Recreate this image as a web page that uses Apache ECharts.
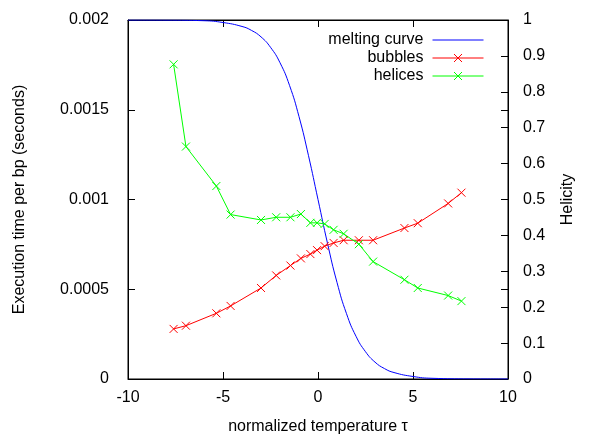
<!DOCTYPE html>
<html>
<head>
<meta charset="utf-8">
<script src="https://cdn.jsdelivr.net/npm/echarts@6/dist/echarts.min.js"></script>
<style>
  html, body { margin: 0; padding: 0; background: #fff; }
  #chart { width: 600px; height: 440px; }
</style>
</head>
<body>
<div id="chart"></div>
<script>
// normalized temperature of the simulation runs
var tau = [-7.6, -6.95, -5.35, -4.6, -3.0, -2.2, -1.45, -0.9, -0.4, -0.05, 0.35, 0.82, 1.35, 2.15, 2.9, 4.55, 5.25, 6.85, 7.55];
// execution time per bp (seconds)
var bubbles = [0.000279, 0.000297, 0.000366, 0.000407, 0.000507, 0.000577, 0.000632, 0.000672, 0.000696, 0.000718, 0.00074, 0.000758, 0.000773, 0.000773, 0.000773, 0.000841, 0.000868, 0.000978, 0.001038];
var helices = [0.001753, 0.001295, 0.001075, 0.000916, 0.000886, 0.000901, 0.000901, 0.000919, 0.00087, 0.00087, 0.000864, 0.000831, 0.000809, 0.000751, 0.000654, 0.000553, 0.000507, 0.000465, 0.000434];
// melting curve (helicity)
var meltX = [-10, -8, -6, -5, -4, -3.5, -3, -2.5, -2, -1.5, -1, -0.5, 0, 0.5, 1, 1.5, 2, 2.5, 3, 3.5, 4, 5, 6, 8, 10];
var meltY = [1.0, 0.9997, 0.998, 0.993, 0.982, 0.971, 0.953, 0.924, 0.881, 0.818, 0.731, 0.622, 0.5, 0.378, 0.269, 0.182, 0.119, 0.076, 0.047, 0.029, 0.018, 0.007, 0.002, 0.0003, 0.0];

var font = 'Liberation Sans';
var xMark = 'path://M0,0L10,10M10,0L0,10';

function zip(a, b) {
  return a.map(function (v, i) { return [v, b[i]]; });
}

var chart = echarts.init(document.getElementById('chart'), null, {renderer: 'canvas'});

var tickIn = {show: true, inside: true, length: 7, lineStyle: {color: '#000'}};
var line = {show: true, onZero: false, lineStyle: {color: '#000'}};

chart.setOption({
  animation: false,
  backgroundColor: '#fff',
  textStyle: {fontFamily: font, fontSize: 16, color: '#000'},
  grid: {left: 128, right: 92, top: 20, bottom: 56, show: true, borderColor: '#000', borderWidth: 1, backgroundColor: 'transparent'},
  legend: {
    orient: 'vertical',
    right: 111,
    top: 26,
    align: 'right',
    itemWidth: 51,
    itemHeight: 10,
    itemGap: 0,
    lineStyle: {width: 1},
    itemStyle: {borderWidth: 1},
    textStyle: {fontFamily: font, fontSize: 16, color: '#000', lineHeight: 18, padding: [0, 4, 0, 0]},
    data: [
      {name: 'melting curve', itemStyle: {color: 'transparent', borderWidth: 0, opacity: 0}},
      'bubbles',
      'helices'
    ]
  },
  xAxis: [{
    type: 'value', min: -10, max: 10, interval: 5,
    name: 'normalized temperature \u03c4', nameLocation: 'middle', nameGap: 40,
    nameTextStyle: {fontFamily: font, fontSize: 16, color: '#000'},
    axisLine: line,
    axisTick: tickIn,
    axisLabel: {fontFamily: font, fontSize: 16, color: '#000', margin: 11},
    splitLine: {show: false}
  }, {
    type: 'value', min: -10, max: 10, interval: 5, position: 'top',
    axisLine: line,
    axisTick: tickIn,
    axisLabel: {show: false},
    splitLine: {show: false}
  }],
  yAxis: [{
    type: 'value', min: 0, max: 0.002, interval: 0.0005, position: 'left',
    name: 'Execution time per bp (seconds)', nameLocation: 'middle', nameGap: 100,
    nameTextStyle: {fontFamily: font, fontSize: 16, color: '#000'},
    axisLine: line,
    axisTick: tickIn,
    axisLabel: {fontFamily: font, fontSize: 16, color: '#000', margin: 19},
    splitLine: {show: false}
  }, {
    type: 'value', min: 0, max: 1, interval: 0.1, position: 'right',
    name: 'Helicity', nameLocation: 'middle', nameGap: 52,
    nameTextStyle: {fontFamily: font, fontSize: 16, color: '#000'},
    axisLine: line,
    axisTick: tickIn,
    axisLabel: {fontFamily: font, fontSize: 16, color: '#000', margin: 15},
    splitLine: {show: false}
  }, {
    // mirror of the left axis ticks on the right border
    type: 'value', min: 0, max: 0.002, interval: 0.0005, position: 'right',
    axisLine: {show: false, onZero: false},
    axisTick: tickIn,
    axisLabel: {show: false},
    splitLine: {show: false}
  }],
  series: [{
    name: 'melting curve',
    type: 'line',
    yAxisIndex: 1,
    smooth: true,
    symbol: 'none',
    lineStyle: {color: '#0000ff', width: 1},
    itemStyle: {color: '#0000ff'},
    data: zip(meltX, meltY)
  }, {
    name: 'bubbles',
    type: 'line',
    yAxisIndex: 0,
    symbol: xMark,
    symbolSize: 8,
    showAllSymbol: true,
    lineStyle: {color: '#ff0000', width: 1},
    itemStyle: {color: '#ff0000', borderColor: '#ff0000', borderWidth: 1},
    data: zip(tau, bubbles)
  }, {
    name: 'helices',
    type: 'line',
    yAxisIndex: 0,
    symbol: xMark,
    symbolSize: 8,
    showAllSymbol: true,
    lineStyle: {color: '#00ff00', width: 1},
    itemStyle: {color: '#00ff00', borderColor: '#00ff00', borderWidth: 1},
    data: zip(tau, helices)
  }]
});
</script>
</body>
</html>
